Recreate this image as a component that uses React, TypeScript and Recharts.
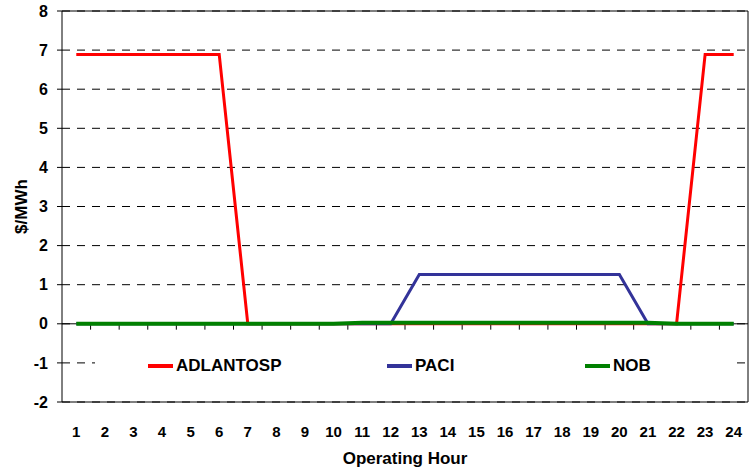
import React from "react";
import {
  LineChart,
  Line,
  XAxis,
  YAxis,
  CartesianGrid,
  ReferenceLine,
  Legend,
} from "recharts";

const hours = [1, 2, 3, 4, 5, 6, 7, 8, 9, 10, 11, 12, 13, 14, 15, 16, 17, 18, 19, 20, 21, 22, 23, 24];

const adlantosp = [
  6.89, 6.89, 6.89, 6.89, 6.89, 6.89, 0, 0, 0, 0, 0, 0, 0, 0, 0, 0, 0, 0, 0, 0, 0, 0, 6.89, 6.89,
];
const paci = [
  0, 0, 0, 0, 0, 0, 0, 0, 0, 0, 0, 0, 1.26, 1.26, 1.26, 1.26, 1.26, 1.26, 1.26, 1.26, 0, 0, 0, 0,
];
const nob = [
  0, 0, 0, 0, 0, 0, 0, 0, 0, 0, 0.03, 0.03, 0.03, 0.03, 0.03, 0.03, 0.03, 0.03, 0.03, 0.03, 0.03, 0, 0, 0,
];

const seriesNames = ["ADLANTOSP", "PACI", "NOB"];
const yTicks = [-2, -1, 0, 1, 2, 3, 4, 5, 6, 7, 8];

const data = hours.map((h, i) => ({
  hour: h,
  ADLANTOSP: adlantosp[i],
  PACI: paci[i],
  NOB: nob[i],
}));

// boundaries between hours, where the small tick marks sit on the zero line
const boundaries = hours.slice(0, -1).map((h) => h + 0.5);

const FONT = '"Liberation Sans", Arial, sans-serif';

// legend item offsets inside the white legend box
const legendLeft = [53, 292, 490];

function LegendBox(props: any) {
  const items = [...(props.payload || [])].sort(
    (a: any, b: any) => seriesNames.indexOf(a.value) - seriesNames.indexOf(b.value)
  );
  return (
    <div style={{ position: "relative", width: 640, height: 36, background: "#fff" }}>
      {items.map((p: any, i: number) => (
        <div
          key={p.value}
          style={{
            position: "absolute",
            left: legendLeft[i],
            top: 0,
            height: 36,
            display: "flex",
            alignItems: "center",
            fontFamily: FONT,
            fontWeight: "bold",
            fontSize: 17,
            color: "#000",
          }}
        >
          <span style={{ display: "inline-block", width: 25, height: 3.5, background: p.color, marginRight: 3 }} />
          {p.value}
        </div>
      ))}
    </div>
  );
}

export default function App() {
  return (
    <div style={{ position: "absolute", left: 0, top: 0, background: "#fff" }}>
      <LineChart width={755} height={471} data={data} margin={{ top: 11, right: 7, left: 0, bottom: 0 }}>
        <CartesianGrid horizontal vertical={false} stroke="#000" strokeDasharray="8 7" />
        <XAxis
          dataKey="hour"
          type="number"
          domain={[0.5, 24.5]}
          ticks={hours}
          interval={0}
          axisLine={false}
          tickLine={false}
          tickSize={0}
          tickMargin={24}
          height={69}
          tick={{ fontSize: 15, fontWeight: "bold", fill: "#000", fontFamily: FONT }}
          label={({ viewBox }: any) => (
            <text
              x={viewBox.x + viewBox.width / 2}
              y={464}
              textAnchor="middle"
              fontSize={17}
              fontWeight="bold"
              fontFamily={FONT}
              fill="#000"
            >
              Operating Hour
            </text>
          )}
        />
        <YAxis
          domain={[-2, 8]}
          ticks={yTicks}
          interval={0}
          width={62}
          tickSize={5}
          tickMargin={9}
          stroke="#000"
          tickLine={{ stroke: "#000" }}
          axisLine={{ stroke: "#000" }}
          tick={{ fontSize: 16, fontWeight: "bold", fill: "#000", fontFamily: FONT }}
          label={({ viewBox }: any) => {
            const cx = 21;
            const cy = viewBox.y + viewBox.height / 2;
            return (
              <text
                x={cx}
                y={cy}
                transform={`rotate(-90 ${cx} ${cy})`}
                textAnchor="middle"
                dominantBaseline="central"
                fontSize={17}
                fontWeight="bold"
                fontFamily={FONT}
                fill="#000"
              >
                $/MWh
              </text>
            );
          }}
        />
        <ReferenceLine y={8} stroke="#000" />
        <ReferenceLine y={-2} stroke="#000" />
        <ReferenceLine x={24.5} stroke="#000" />
        <ReferenceLine y={0} stroke="#000" />
        {boundaries.map((b) => (
          <ReferenceLine
            key={b}
            segment={[
              { x: b, y: 0 },
              { x: b, y: -0.15 },
            ]}
            stroke="#000"
          />
        ))}
        <Legend
          layout="horizontal"
          verticalAlign="middle"
          align="center"
          content={<LegendBox />}
          wrapperStyle={{ left: 95, top: 348, width: 640, height: 36 }}
        />
        <Line
          dataKey="ADLANTOSP"
          stroke="#ff0000"
          strokeWidth={3}
          dot={false}
          isAnimationActive={false}
        />
        <Line dataKey="PACI" stroke="#333399" strokeWidth={3} dot={false} isAnimationActive={false} />
        <Line dataKey="NOB" stroke="#008000" strokeWidth={4} dot={false} isAnimationActive={false} />
      </LineChart>
    </div>
  );
}
